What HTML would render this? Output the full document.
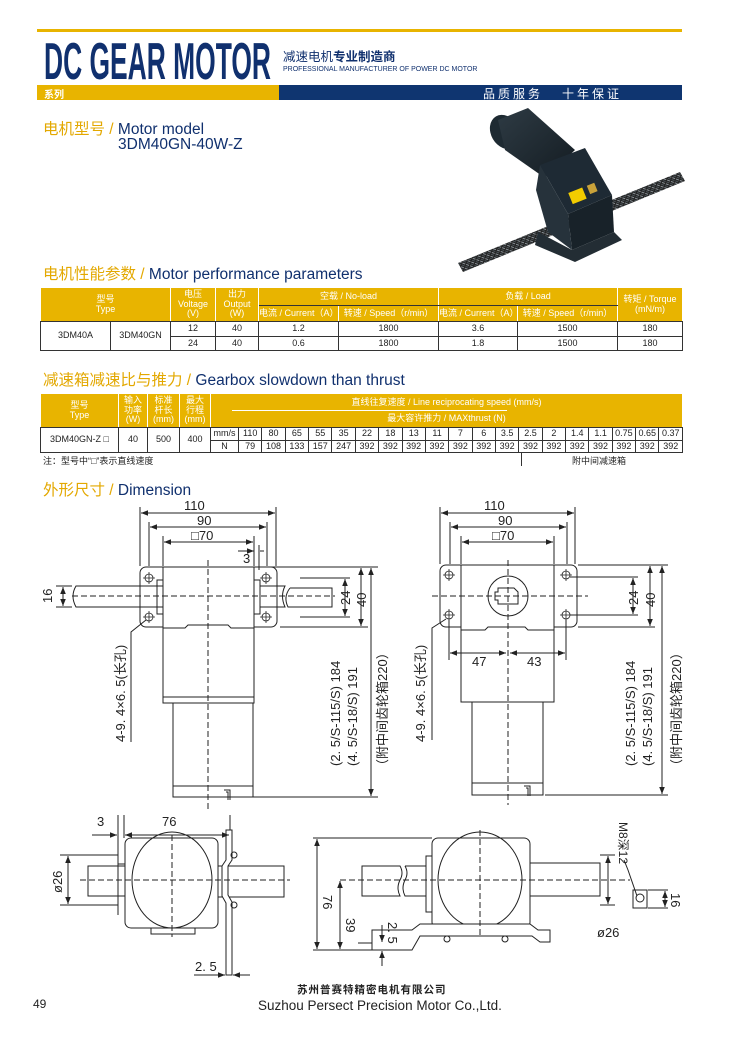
<!DOCTYPE html>
<html><head><meta charset="utf-8">
<style>
*{margin:0;padding:0;box-sizing:border-box}
body{width:730px;height:1050px;background:#fff;position:relative;overflow:hidden;font-family:"Liberation Sans","Noto Sans CJK SC",sans-serif;color:#222}
.a{position:absolute;white-space:nowrap}
.ttl{font-size:15.5px;color:#10306e}
.ttl b{font-weight:normal;color:#e3a800}
table{position:absolute;border-collapse:collapse;table-layout:fixed;font-size:9px}
td{border:1px solid #333;text-align:center;padding:0;line-height:1.05;overflow:hidden;white-space:nowrap}
td.h{background:#e8b400;color:#fff;border-color:#fff #fff #333 #fff}
svg{position:absolute;left:0;top:0}
</style></head><body>
<div class="a" style="left:37px;top:29px;width:645px;height:3px;background:#e8b400"></div>
<svg width="730" height="1050" style="z-index:0">
<text x="44" y="79" font-family="Liberation Sans Narrow,Liberation Sans,sans-serif" font-weight="bold" font-size="52" fill="#10306e" textLength="227" lengthAdjust="spacingAndGlyphs">DC GEAR MOTOR</text>
</svg>
<div class="a" style="left:283px;top:46px;font-size:12.5px;color:#10306e">减速电机<b>专业制造商</b></div>
<div class="a" style="left:283px;top:66px;font-size:7px;color:#10306e">PROFESSIONAL MANUFACTURER OF POWER DC MOTOR</div>
<div class="a" style="left:37px;top:85px;width:242px;height:15px;background:#e8b400"></div>
<div class="a" style="left:279px;top:85px;width:403px;height:15px;background:#0f3570"></div>
<div class="a" style="left:44px;top:86px;font-size:10px;color:#fff;font-weight:bold">系列</div>
<div class="a" style="left:483px;top:85px;font-size:12px;color:#fff;letter-spacing:3px">品质服务&nbsp;&nbsp;&nbsp;十年保证</div>

<div class="a ttl" style="left:43px;top:117px"><b>电机型号 / </b>Motor model</div>
<div class="a ttl" style="left:118px;top:136px">3DM40GN-40W-Z</div>
<div class="a ttl" style="left:43px;top:262px"><b>电机性能参数 / </b>Motor performance parameters</div>
<div class="a ttl" style="left:43px;top:368px"><b>减速箱减速比与推力 / </b>Gearbox slowdown than thrust</div>
<div class="a ttl" style="left:43px;top:478px"><b>外形尺寸 / </b>Dimension</div>

<table style="left:40px;top:287px;width:642px">
<colgroup><col style="width:70px"><col style="width:60px"><col style="width:45px"><col style="width:43px"><col style="width:80px"><col style="width:100px"><col style="width:79px"><col style="width:100px"><col style="width:65px"></colgroup>
<tr style="height:18px"><td class="h" colspan="2" rowspan="2">型号<br>Type</td><td class="h" rowspan="2">电压<br>Voltage<br>(V)</td><td class="h" rowspan="2">出力<br>Output<br>(W)</td><td class="h" colspan="2">空载 / No-load</td><td class="h" colspan="2">负载 / Load</td><td class="h" rowspan="2">转矩 / Torque<br>(mN/m)</td></tr>
<tr style="height:16px"><td class="h">电流 / Current（A）</td><td class="h">转速 / Speed（r/min）</td><td class="h">电流 / Current（A）</td><td class="h">转速 / Speed（r/min）</td></tr>
<tr style="height:15px"><td rowspan="2">3DM40A</td><td rowspan="2">3DM40GN</td><td>12</td><td>40</td><td>1.2</td><td>1800</td><td>3.6</td><td>1500</td><td>180</td></tr>
<tr style="height:14px"><td>24</td><td>40</td><td>0.6</td><td>1800</td><td>1.8</td><td>1500</td><td>180</td></tr>
</table>

<table style="left:40px;top:393px;width:642px">
<colgroup><col style="width:78px"><col style="width:29px"><col style="width:32px"><col style="width:31px"><col style="width:28px"><col span="19" style="width:23.36px"></colgroup>
<tr style="height:17px"><td class="h" rowspan="2">型号<br>Type</td><td class="h" rowspan="2">输入<br>功率<br>(W)</td><td class="h" rowspan="2">标准<br>杆长<br>(mm)</td><td class="h" rowspan="2">最大<br>行程<br>(mm)</td><td class="h" colspan="20" style="border-bottom:none">直线往复速度 / Line reciprocating speed (mm/s)</td></tr>
<tr style="height:17px"><td class="h" colspan="20" style="border-top:none">最大容许推力 / MAXthrust (N)</td></tr>
<tr style="height:13px"><td rowspan="2">3DM40GN-Z □</td><td rowspan="2">40</td><td rowspan="2">500</td><td rowspan="2">400</td><td>mm/s</td><td>110</td><td>80</td><td>65</td><td>55</td><td>35</td><td>22</td><td>18</td><td>13</td><td>11</td><td>7</td><td>6</td><td>3.5</td><td>2.5</td><td>2</td><td>1.4</td><td>1.1</td><td>0.75</td><td>0.65</td><td>0.37</td></tr>
<tr style="height:12px"><td>N</td><td>79</td><td>108</td><td>133</td><td>157</td><td>247</td><td>392</td><td>392</td><td>392</td><td>392</td><td>392</td><td>392</td><td>392</td><td>392</td><td>392</td><td>392</td><td>392</td><td>392</td><td>392</td><td>392</td></tr>
</table>
<div class="a" style="left:232px;top:410px;width:275px;height:1px;background:#fff"></div>
<div class="a" style="left:43px;top:454px;font-size:9px">注：型号中“□”表示直线速度</div>
<div class="a" style="left:521px;top:453px;width:1px;height:13px;background:#333"></div>
<div class="a" style="left:572px;top:454px;font-size:9px">附中间减速箱</div>

<svg width="730" height="1050" font-family="Liberation Sans,Noto Sans CJK SC,sans-serif" font-size="13" fill="none" stroke="#222" stroke-width="1">
<defs>
<marker id="ar" viewBox="0 0 10 10" refX="10" refY="5" markerWidth="7" markerHeight="7" orient="auto-start-reverse"><path d="M0,1 L10,5 L0,9 z" fill="#222" stroke="none"/></marker>
<pattern id="thr" width="4" height="4" patternUnits="userSpaceOnUse" patternTransform="rotate(-70)"><rect width="4" height="4" fill="#8a9298"/><rect width="2" height="4" fill="#4a5358"/></pattern>
<linearGradient id="cyl" x1="0" y1="0" x2="1" y2="1"><stop offset="0" stop-color="#2e3b44"/><stop offset="1" stop-color="#141c22"/></linearGradient>
</defs>
<g stroke="none">
<path d="M458,263 L680,172 L685,181 L463,272 z" fill="url(#thr)"/>
<ellipse cx="505" cy="132" rx="14" ry="18" fill="#1e2a32" transform="rotate(-30 505 132)"/>
<path d="M498,120 L528,108 L575,150 L545,178 L505,150 z" fill="url(#cyl)"/>
<path d="M540,165 L585,148 L612,195 L568,214 z" fill="#1e2a34"/>
<path d="M568,214 L612,195 L614,232 L572,250 z" fill="#182229"/>
<path d="M540,165 L568,214 L572,250 L548,232 L536,190 z" fill="#26323b"/>
<path d="M538,232 L572,250 L614,232 L622,240 L575,262 L535,245 z" fill="#232d34"/>
<rect x="570" y="190" width="15" height="12" fill="#f2cc00" transform="rotate(-22 577 196)"/>
<rect x="588" y="184" width="8" height="9" fill="#c9a23a" transform="rotate(-22 592 188)"/>
</g>

<g>
<line x1="140" y1="507" x2="140" y2="566"/><line x1="276" y1="507" x2="276" y2="566"/>
<line x1="149" y1="522" x2="149" y2="566"/><line x1="267" y1="522" x2="267" y2="566"/>
<line x1="163" y1="536" x2="163" y2="566"/><line x1="254" y1="536" x2="254" y2="566"/>
<line x1="141" y1="513" x2="275" y2="513" marker-start="url(#ar)" marker-end="url(#ar)"/>
<line x1="150" y1="527" x2="266" y2="527" marker-start="url(#ar)" marker-end="url(#ar)"/>
<line x1="164" y1="542" x2="253" y2="542" marker-start="url(#ar)" marker-end="url(#ar)"/>
<line x1="238" y1="551" x2="254" y2="551" marker-end="url(#ar)"/><line x1="260" y1="551" x2="264" y2="551"/><line x1="259" y1="545" x2="259" y2="570"/>
<rect x="140" y="567" width="137" height="60" rx="6"/>
<rect x="163" y="567" width="91" height="136" fill="#fff"/>
<rect x="157" y="580" width="6" height="34"/><rect x="254" y="580" width="6" height="34"/>
<path d="M163,628 L185,628 L188,625 L228,625 L231,628 L254,628"/>
<line x1="163" y1="697" x2="254" y2="697"/>
<rect x="173" y="703" width="80" height="94"/>
<line x1="173" y1="786" x2="253" y2="786"/>
<path d="M224,790 h6 v10 M226,792 h2 v8"/>
<path d="M163,586 L76,586 Q70,596 76,607 L163,607"/>
<path d="M260,586 L285,586 Q280,596 285,607 L260,607 M290,588 L332,588 L332,607 L288,607 Q283,597 290,588"/>
<g stroke-width="0.8"><circle cx="149" cy="578" r="4"/><circle cx="266" cy="578" r="4"/><circle cx="149" cy="617" r="4"/><circle cx="266" cy="617" r="4"/>
<path d="M143,578h12M149,572v12M260,578h12M266,572v12M143,617h12M149,611v12M260,617h12M266,611v12"/></g>
<line x1="72" y1="596" x2="335" y2="596" stroke-dasharray="6,3"/>
<line x1="208" y1="560" x2="208" y2="812" stroke-dasharray="6,3"/>
<line x1="63" y1="587" x2="63" y2="606" marker-start="url(#ar)" marker-end="url(#ar)"/>
<line x1="56" y1="586" x2="72" y2="586"/><line x1="56" y1="607" x2="72" y2="607"/>
<line x1="280" y1="567" x2="368" y2="567"/><line x1="280" y1="627" x2="368" y2="627"/>
<line x1="300" y1="578" x2="350" y2="578"/><line x1="300" y1="617" x2="350" y2="617"/>
<line x1="250" y1="797" x2="378" y2="797"/><line x1="250" y1="567" x2="378" y2="567"/>
<line x1="345" y1="579" x2="345" y2="616" marker-start="url(#ar)" marker-end="url(#ar)"/>
<line x1="361" y1="568" x2="361" y2="626" marker-start="url(#ar)" marker-end="url(#ar)"/>
<line x1="371" y1="568" x2="371" y2="796" marker-start="url(#ar)" marker-end="url(#ar)"/>
<path d="M146,620 L131,632 L131,742"/>
</g>
<g>
<line x1="440" y1="507" x2="440" y2="564"/><line x1="575" y1="507" x2="575" y2="564"/>
<line x1="450" y1="522" x2="450" y2="564"/><line x1="567" y1="522" x2="567" y2="564"/>
<line x1="461" y1="536" x2="461" y2="564"/><line x1="554" y1="536" x2="554" y2="564"/>
<line x1="441" y1="513" x2="574" y2="513" marker-start="url(#ar)" marker-end="url(#ar)"/>
<line x1="451" y1="527" x2="566" y2="527" marker-start="url(#ar)" marker-end="url(#ar)"/>
<line x1="462" y1="542" x2="553" y2="542" marker-start="url(#ar)" marker-end="url(#ar)"/>
<rect x="440" y="565" width="137" height="62" rx="6"/>
<rect x="461" y="565" width="93" height="137" fill="#fff"/>
<path d="M461,630 L485,630 L488,627 L525,627 L528,630 L554,630"/>
<rect x="472" y="702" width="71" height="93"/><line x1="472" y1="783" x2="543" y2="783"/>
<path d="M524,786 h6 v10 M526,788 h2 v8"/>
<circle cx="508" cy="596" r="20"/>
<path d="M498,588 L514,588 L518,592 L518,604 L498,604 L498,600 L495,600 L495,592 L498,592 z"/>
<g stroke-width="0.8"><circle cx="449" cy="575" r="4"/><circle cx="566" cy="575" r="4"/><circle cx="449" cy="615" r="4"/><circle cx="566" cy="615" r="4"/>
<path d="M443,575h12M449,569v12M560,575h12M566,569v12M443,615h12M449,609v12M560,615h12M566,609v12"/></g>
<line x1="432" y1="596" x2="588" y2="596" stroke-dasharray="6,3"/>
<line x1="508" y1="560" x2="508" y2="805" stroke-dasharray="6,3"/>
<line x1="449" y1="620" x2="449" y2="660"/><line x1="566" y1="620" x2="566" y2="660"/>
<line x1="450" y1="653" x2="506" y2="653" marker-start="url(#ar)" marker-end="url(#ar)"/>
<line x1="510" y1="653" x2="565" y2="653" marker-start="url(#ar)" marker-end="url(#ar)"/>
<line x1="578" y1="565" x2="668" y2="565"/><line x1="578" y1="627" x2="655" y2="627"/>
<line x1="570" y1="577" x2="638" y2="577"/><line x1="570" y1="615" x2="638" y2="615"/>
<line x1="545" y1="795" x2="668" y2="795"/>
<line x1="633" y1="578" x2="633" y2="614" marker-start="url(#ar)" marker-end="url(#ar)"/>
<line x1="650" y1="566" x2="650" y2="626" marker-start="url(#ar)" marker-end="url(#ar)"/>
<line x1="662" y1="566" x2="662" y2="794" marker-start="url(#ar)" marker-end="url(#ar)"/>
<path d="M446,619 L432,628 L432,740"/>
</g>
<g>
<rect x="125" y="838" width="93" height="90" rx="6"/>
<ellipse cx="172" cy="880" rx="40" ry="48"/>
<rect x="88" y="866" width="37" height="30"/><line x1="118" y1="864" x2="125" y2="864"/>
<rect x="218" y="866" width="66" height="31"/>
<path d="M226,830 L232,830 L232,860 L228,866 L228,895 L232,902 L232,975 L226,975 L226,903 L222,896 L222,866 L226,860 z" fill="#fff"/>
<circle cx="234" cy="855" r="3"/><circle cx="234" cy="905" r="3"/>
<rect x="151" y="928" width="44" height="6"/>
<line x1="118" y1="815" x2="118" y2="915"/><line x1="124" y1="815" x2="124" y2="838"/><line x1="230" y1="815" x2="230" y2="830"/>
<line x1="125" y1="835" x2="229" y2="835" marker-start="url(#ar)" marker-end="url(#ar)"/>
<line x1="92" y1="835" x2="117" y2="835" marker-end="url(#ar)"/>
<line x1="80" y1="880" x2="290" y2="880" stroke-dasharray="6,3"/>
<line x1="172" y1="835" x2="172" y2="937" stroke-dasharray="6,3"/>
<line x1="60" y1="855" x2="118" y2="855"/><line x1="60" y1="905" x2="118" y2="905"/>
<line x1="68" y1="856" x2="68" y2="904" marker-start="url(#ar)" marker-end="url(#ar)"/>
<line x1="194" y1="975" x2="225" y2="975" marker-end="url(#ar)"/><line x1="250" y1="975" x2="233" y2="975" marker-end="url(#ar)"/>
</g>
<g>
<rect x="432" y="838" width="98" height="90" rx="6"/>
<ellipse cx="480" cy="880" rx="42" ry="48"/>
<path d="M362,866 L400,866 Q404,873 400,880 Q396,888 400,896 L362,896 z M405,866 L426,866 L426,896 L405,896 Q401,888 405,880 Q409,873 405,866"/>
<rect x="426" y="856" width="6" height="56"/>
<rect x="530" y="863" width="70" height="33"/>
<path d="M372,930 L412,930 L420,924 L530,924 L538,930 L550,930 L550,942 L540,942 L532,936 L420,936 L412,950 L372,950 z" fill="#fff"/>
<circle cx="447" cy="939" r="3"/><circle cx="505" cy="939" r="3"/>
<line x1="313" y1="838" x2="432" y2="838"/><line x1="313" y1="950" x2="372" y2="950"/>
<line x1="317" y1="839" x2="317" y2="949" marker-start="url(#ar)" marker-end="url(#ar)"/>
<line x1="340" y1="881" x2="340" y2="949" marker-start="url(#ar)" marker-end="url(#ar)"/>
<line x1="358" y1="943" x2="372" y2="943"/>
<line x1="382" y1="925" x2="382" y2="942" marker-end="url(#ar)"/><line x1="382" y1="966" x2="382" y2="951" marker-end="url(#ar)"/>
<line x1="340" y1="880" x2="630" y2="880" stroke-dasharray="6,3"/>
<line x1="480" y1="830" x2="480" y2="935" stroke-dasharray="6,3"/>
<line x1="600" y1="855" x2="615" y2="855"/><line x1="600" y1="905" x2="615" y2="905"/>
<line x1="608" y1="856" x2="608" y2="904" marker-start="url(#ar)" marker-end="url(#ar)"/>
<rect x="633" y="890" width="14" height="18"/><circle cx="640" cy="898" r="4"/>
<line x1="648" y1="890" x2="668" y2="890"/><line x1="648" y1="908" x2="668" y2="908"/>
<line x1="665" y1="891" x2="665" y2="907" marker-start="url(#ar)" marker-end="url(#ar)"/>
<path d="M624,860 L628,870 L637,896"/>
</g>
<g fill="#222" stroke="none" font-size="13">
<text x="184" y="510">110</text><text x="197" y="525">90</text><text x="191" y="540">□70</text><text x="243" y="563">3</text>
<text x="484" y="510">110</text><text x="498" y="525">90</text><text x="492" y="540">□70</text>
<text x="472" y="666">47</text><text x="527" y="666">43</text>
<text x="97" y="826">3</text><text x="162" y="826">76</text><text x="195" y="971">2. 5</text>
<text x="597" y="937">ø26</text>
<text transform="translate(52,603) rotate(-90)">16</text>
<text transform="translate(62,893) rotate(-90)">ø26</text>
<text transform="translate(350,605) rotate(-90)">24</text>
<text transform="translate(366,607) rotate(-90)">40</text>
<text transform="translate(638,605) rotate(-90)">24</text>
<text transform="translate(655,607) rotate(-90)">40</text>
<text transform="translate(125,742) rotate(-90)">4-9. 4×6. 5(长孔)</text>
<text transform="translate(425,742) rotate(-90)">4-9. 4×6. 5(长孔)</text>
<text transform="translate(340,766) rotate(-90)">(2. 5/S-115/S) 184</text>
<text transform="translate(357,766) rotate(-90)">(4. 5/S-18/S) 191</text>
<text transform="translate(387,772) rotate(-90)">（附中间齿轮箱220）</text>
<text transform="translate(635,766) rotate(-90)">(2. 5/S-115/S) 184</text>
<text transform="translate(652,766) rotate(-90)">(4. 5/S-18/S) 191</text>
<text transform="translate(681,772) rotate(-90)">（附中间齿轮箱220）</text>
<text transform="translate(323,895) rotate(90)">76</text>
<text transform="translate(346,918) rotate(90)">39</text>
<text transform="translate(388,922) rotate(90)">2. 5</text>
<text transform="translate(671,893) rotate(90)">16</text>
<text transform="translate(619,822) rotate(90)" font-size="12">M8深12</text>
</g>
</svg>

<div class="a" style="left:297px;top:982px;font-size:10.5px;font-weight:bold;letter-spacing:1px">苏州普赛特精密电机有限公司</div>
<div class="a" style="left:258px;top:998px;font-size:13.5px">Suzhou Persect Precision Motor Co.,Ltd.</div>
<div class="a" style="left:33px;top:997px;font-size:12px">49</div>
</body></html>
